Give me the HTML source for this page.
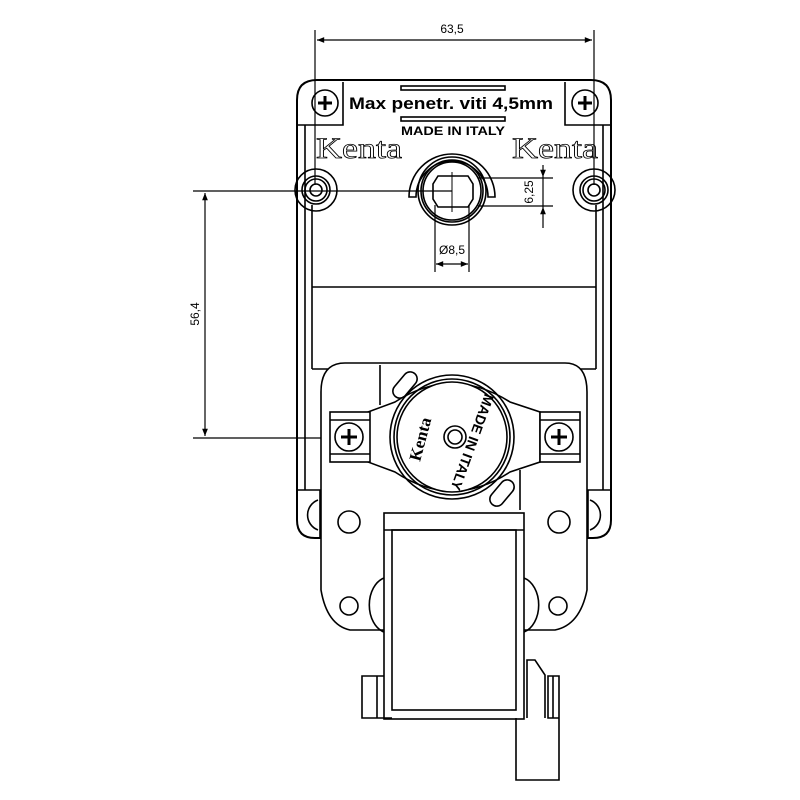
<!DOCTYPE html>
<html><head><meta charset="utf-8"><style>html,body{margin:0;padding:0;background:#fff}svg{display:block}</style></head>
<body>
<svg width="800" height="800" viewBox="0 0 800 800" xmlns="http://www.w3.org/2000/svg" fill="none" stroke="#000" stroke-width="1.6" font-family="Liberation Sans, sans-serif">
<defs>
<marker id="a" viewBox="0 0 10 10" refX="10" refY="5" markerWidth="8" markerHeight="6" orient="auto-start-reverse"><path d="M0,1 L10,5 L0,9z" fill="#000" stroke="none"/></marker>
</defs>
<!-- outer plate -->
<path d="M317,80 H591 Q611,80 611,100 V520 Q611,538 593,538 H315 Q297,538 297,520 V100 Q297,80 317,80 Z" stroke-width="2"/>
<line x1="305" y1="125" x2="305" y2="490"/><line x1="312" y1="205" x2="312" y2="369"/>
<line x1="603" y1="125" x2="603" y2="490"/><line x1="596" y1="205" x2="596" y2="369"/>
<line x1="312" y1="287" x2="596" y2="287"/><line x1="312" y1="369" x2="596" y2="369"/>
<!-- top corner brackets -->
<path d="M297,125 H343 V82"/><path d="M611,125 H565 V82"/>
<circle cx="325" cy="103" r="13"/><circle cx="585" cy="103" r="13"/>
<path d="M325,96 V110 M318,103 H332 M585,96 V110 M578,103 H592" stroke-width="3"/>
<!-- bosses -->
<g><circle cx="316" cy="190" r="21"/><circle cx="316" cy="190" r="14"/><circle cx="316" cy="190" r="11"/><circle cx="316" cy="190" r="6"/></g>
<g><circle cx="594" cy="190" r="21"/><circle cx="594" cy="190" r="14"/><circle cx="594" cy="190" r="11"/><circle cx="594" cy="190" r="6"/></g>
<!-- text band -->
<rect x="401" y="86" width="104" height="4"/><rect x="401" y="117" width="104" height="4"/>
<text x="349" y="109" font-size="17" font-weight="bold" fill="#000" stroke="none" textLength="204" lengthAdjust="spacingAndGlyphs">Max penetr. viti 4,5mm</text>
<text x="401" y="135" font-size="12" font-weight="bold" fill="#000" stroke="none" textLength="104" lengthAdjust="spacingAndGlyphs">MADE IN ITALY</text>
<text x="316" y="158" font-size="30" font-family="Liberation Serif, serif" fill="#fff" stroke="#000" stroke-width="0.8" textLength="86" lengthAdjust="spacingAndGlyphs">Kenta</text>
<text x="512" y="158" font-size="30" font-family="Liberation Serif, serif" fill="#fff" stroke="#000" stroke-width="0.8" textLength="86" lengthAdjust="spacingAndGlyphs">Kenta</text>
<!-- shaft -->
<path d="M409,197 A43,43 0 0 1 495,197 H488 A36,36 0 0 0 416,197 Z"/>
<circle cx="452" cy="191" r="34"/><circle cx="452" cy="191" r="31"/><circle cx="452" cy="191" r="29"/>
<path d="M438,176 H468 L473,184 V199 L468,207 H438 L433,199 V184 Z"/>
<line x1="452" y1="172" x2="452" y2="212" stroke-width="1"/>
<!-- dimensions -->
<g stroke-width="1.2">
<line x1="315" y1="30" x2="315" y2="185"/><line x1="594" y1="30" x2="594" y2="185"/>
<line x1="317" y1="40" x2="592" y2="40" marker-start="url(#a)" marker-end="url(#a)"/>
<line x1="193" y1="191" x2="452" y2="191"/><line x1="193" y1="438" x2="452" y2="438"/>
<line x1="205" y1="193" x2="205" y2="436" marker-start="url(#a)" marker-end="url(#a)"/>
<line x1="478" y1="178" x2="553" y2="178"/><line x1="478" y1="206" x2="553" y2="206"/>
<line x1="543" y1="165" x2="543" y2="177" marker-end="url(#a)"/><line x1="543" y1="228" x2="543" y2="207" marker-end="url(#a)"/>
<line x1="543" y1="177" x2="543" y2="207"/>
<line x1="435" y1="205" x2="435" y2="272"/><line x1="469" y1="205" x2="469" y2="272"/>
<line x1="436" y1="264" x2="468" y2="264" marker-start="url(#a)" marker-end="url(#a)"/>
</g>
<g fill="#000" stroke="none" font-size="12">
<text x="452" y="33" text-anchor="middle">63,5</text>
<text x="452" y="254" text-anchor="middle">Ø8,5</text>
<text transform="translate(199,314) rotate(-90)" text-anchor="middle">56,4</text>
<text transform="translate(533,192) rotate(-90)" text-anchor="middle">6,25</text>
</g>
<!-- bottom corner tabs -->
<path d="M297,490 H320 V538"/><path d="M611,490 H588 V538"/>
<path d="M318,500 A16,16 0 0 0 318,530"/><path d="M590,500 A16,16 0 0 1 590,530"/>
<!-- motor stator -->
<path d="M345,363 H565 Q587,363 587,392 V590 Q580,625 555,630 H350 Q327,625 321,590 V392 Q321,363 345,363 Z" fill="#fff"/>
<line x1="380" y1="365" x2="380" y2="405"/><line x1="520" y1="470" x2="520" y2="510"/>
<rect x="398" y="370" width="14" height="30" rx="7" transform="rotate(40 405 385)"/>
<rect x="495" y="478" width="14" height="30" rx="7" transform="rotate(40 502 493)"/>
<!-- bracket -->
<path d="M368,412 L395,402 Q452,365 510,402 L540,412 V462 L510,472 Q452,510 395,472 L368,462 Z" fill="#fff"/>
<rect x="330" y="412" width="40" height="50" fill="#fff"/><line x1="330" y1="420" x2="370" y2="420"/><line x1="330" y1="454" x2="370" y2="454"/>
<rect x="540" y="412" width="40" height="50" fill="#fff"/><line x1="540" y1="420" x2="580" y2="420"/><line x1="540" y1="454" x2="580" y2="454"/>
<circle cx="349" cy="437" r="14"/><circle cx="559" cy="437" r="14"/>
<path d="M349,429 V445 M341,437 H357 M559,429 V445 M551,437 H567" stroke-width="3"/>
<circle cx="452" cy="437" r="62"/><circle cx="452" cy="437" r="58"/>
<circle cx="452" cy="437" r="55" fill="#fff"/>
<circle cx="455" cy="437" r="11"/><circle cx="455" cy="437" r="7"/>
<g fill="#000" stroke="none" font-weight="bold" font-size="13">
<text transform="translate(420,462) rotate(-75)" font-family="Liberation Serif, serif" font-size="17">Kenta</text>
<text transform="translate(485,393) rotate(110)" font-size="14">MADE IN ITALY</text>
</g>
<!-- lower holes -->
<circle cx="349" cy="522" r="11"/><circle cx="559" cy="522" r="11"/>
<circle cx="349" cy="606" r="9"/><circle cx="558" cy="606" r="9"/>
<!-- coil -->
<rect x="384" y="513" width="140" height="206" fill="#fff"/>
<line x1="384" y1="530" x2="524" y2="530"/><rect x="392" y="530" width="124" height="180"/>
<path d="M384,578 A20,28 0 0 0 384,632"/><path d="M524,578 A20,28 0 0 1 524,632"/>
<path d="M384,676 H362 V718 H392"/><line x1="377" y1="676" x2="377" y2="718"/>
<path d="M516,718 V780 H559 V718 H548 V676 H559 V718"/><line x1="553" y1="676" x2="553" y2="718"/>
<path d="M527,718 V660 H535 L545,675 V718"/>
</svg>
</body></html>
